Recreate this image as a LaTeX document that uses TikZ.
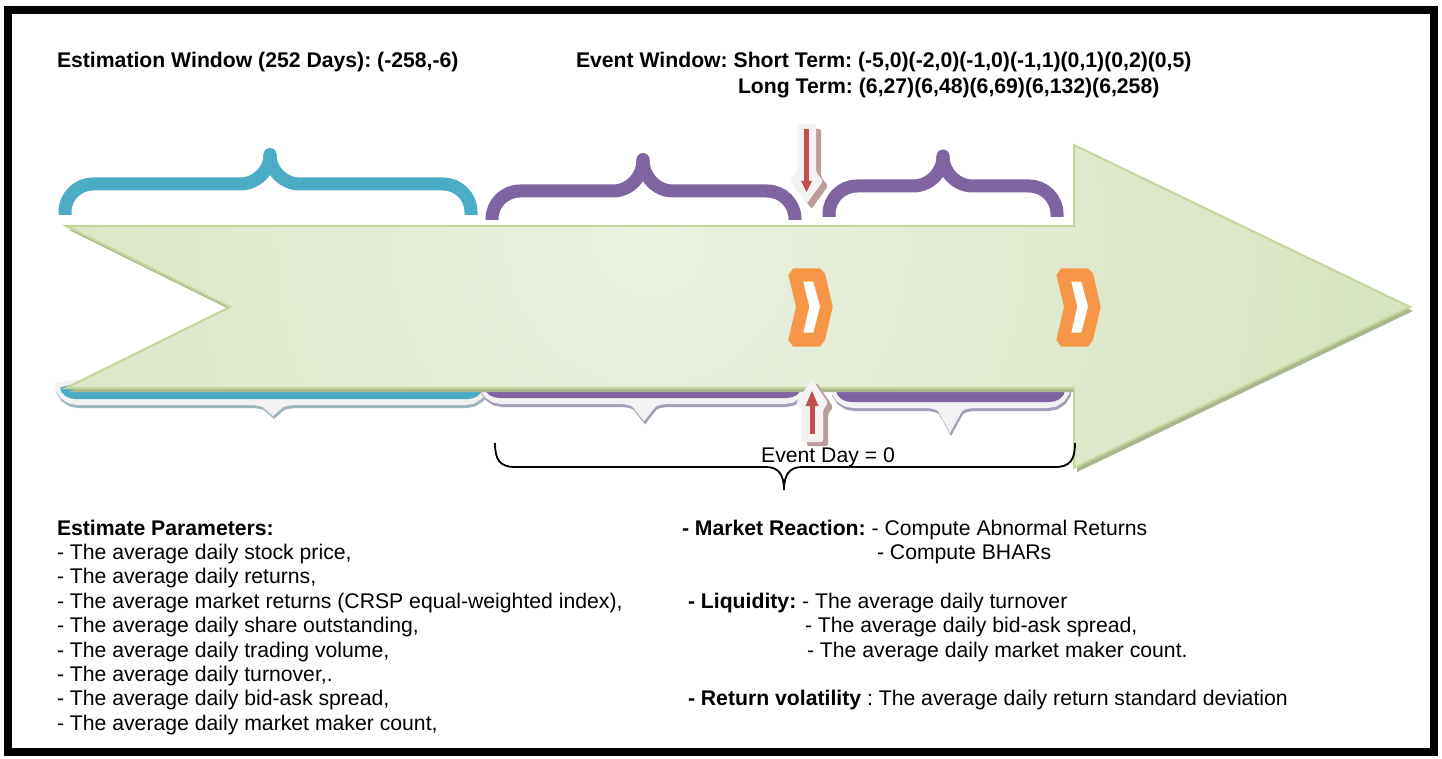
\documentclass[tikz,border=0pt]{standalone}
\usepackage{fontspec}
\setmainfont{Liberation Sans}
\frenchspacing
\definecolor{tealA}{HTML}{4BACC6}
\definecolor{purpA}{HTML}{8064A2}
\definecolor{orngA}{HTML}{F79646}
\definecolor{redA}{HTML}{C0504D}
\definecolor{grnB}{HTML}{C3D69B}
\definecolor{grnL}{HTML}{EAF1E0}
\definecolor{grnD}{HTML}{CEDEB0}
\definecolor{grnS}{HTML}{A9B78F}
\definecolor{glowA}{HTML}{F2F2F2}
\definecolor{redS}{HTML}{BB9D9B}
\definecolor{shT}{HTML}{9DB5BE}
\definecolor{shP}{HTML}{A89DB9}
% top brace: x1 x2 xm ybar yend ytip color
\newcommand{\topbr}[7]{%
 \draw[#7,line width=13pt] (#1,#5) -- (#1,#4+28) .. controls (#1,#4+12.5) and (#1+12.5,#4) .. (#1+28,#4) -- (#3-30,#4) .. controls (#3-13.4,#4) and (#3,{#6+0.55*(#4-#6)}) .. (#3,#6);
 \draw[#7,line width=13pt] (#2,#5) -- (#2,#4+28) .. controls (#2,#4+12.5) and (#2-12.5,#4) .. (#2-28,#4) -- (#3+30,#4) .. controls (#3+13.4,#4) and (#3,{#6+0.55*(#4-#6)}) .. (#3,#6);
 \fill[#7] (#3,#6) circle (6.5);}
% bottom brace: x1 x2 xm ybar kink color shadow
\newcommand{\botbr}[7]{%
 \foreach \sx/\sy/\cc in {1/3/#7,0/0/glowA}{%
 \draw[\cc,line width=24pt,line join=miter,shift={(\sx,\sy)}] (#1,#4-12) .. controls (#1,#4-5) and (#1+5,#4) .. (#1+12,#4) -- (#3-26,#4) .. controls (#3-10,#4) and (#3-3,#4+#5*0.45) .. (#3,#4+#5) .. controls (#3+3,#4+#5*0.45) and (#3+10,#4) .. (#3+26,#4) -- (#2-12,#4) .. controls (#2-5,#4) and (#2,#4-5) .. (#2,#4-12);}
 \draw[#6,line width=12pt] (#1,#4-7) .. controls (#1,#4-3) and (#1+4,#4) .. (#1+10,#4) -- (#2-10,#4) .. controls (#2-4,#4) and (#2,#4-3) .. (#2,#4-7);}
\begin{document}
\begin{tikzpicture}[x=1pt,y=-1pt,
  every node/.style={inner sep=0pt,outer sep=0pt},
  txt/.style={anchor=base west,font=\fontsize{21.2}{24.4}\selectfont},
  btxt/.style={anchor=base west,font=\fontsize{21.2}{24.4}\selectfont\bfseries},
  arrowshape/.style={insert path={(66,226) -- (1074,226) -- (1074,145) -- (1410,307) -- (1074,468) -- (1074,388) -- (66,388) -- (230,307) -- cycle}},
  chev/.style={insert path={(793.3,268.3) -- (820,268.3) -- (825,273.3) -- (832.7,306.7) -- (825,340) -- (820,346.7) -- (793.3,346.7) -- (788.3,340) -- (796,306.7) -- (788.3,275) -- cycle}},
  chevin/.style={insert path={(803.3,281.7) -- (813.3,281.7) -- (820,306.7) -- (813.3,332.7) -- (803.3,332.7) -- (809.3,306.7) -- cycle}}]
\useasboundingbox (0,0) rectangle (1442,759);
\fill[white] (0,0) rectangle (1442,759);
% bottom braces (behind arrow)
\botbr{66}{477}{273}{393}{7}{tealA}{shT}
\botbr{490}{796}{644}{392}{10}{purpA}{shP}
\botbr{842}{1059}{950}{396}{12}{purpA}{shP}
% big arrow
\fill[grnS,shift={(3,4)},arrowshape];
\begin{scope}
\clip[arrowshape];
\shade[inner color=grnL,outer color=grnD] (650,240) circle (1100);
\end{scope}
\draw[grnB,line width=2pt,line join=miter,arrowshape];
% top braces
\topbr{65}{471}{270}{184}{215}{154.5}{tealA}
\topbr{492}{795}{643}{191}{220}{159.5}{purpA}
\topbr{829}{1057}{943}{186}{217}{156}{purpA}
% chevrons
\fill[orngA,chev]; \fill[white,chevin];
\begin{scope}[shift={(268,0)}]
\fill[orngA,chev]; \fill[white,chevin];
\end{scope}
% down red arrow
\fill[redS,shift={(5,5)},rounded corners=2pt] (797,124) -- (816,124) -- (816,172) -- (823,181) -- (806.5,204) -- (790,181) -- (797,172) -- cycle;
\fill[glowA,rounded corners=2pt] (797,124) -- (816,124) -- (816,172) -- (823,181) -- (806.5,204) -- (790,181) -- (797,172) -- cycle;
\fill[redA] (804.3,129) rectangle (809.3,182);
\fill[redA] (801,181) -- (812,181) -- (806.5,192) -- cycle;
% up red arrow
\fill[redS,shift={(5,4)},rounded corners=2pt] (812,379) -- (828,403) -- (823,410) -- (823,442) -- (802,442) -- (802,410) -- (796,403) -- cycle;
\fill[glowA,rounded corners=2pt] (812,379) -- (828,403) -- (823,410) -- (823,442) -- (802,442) -- (802,410) -- (796,403) -- cycle;
\fill[redA] (805.5,406) -- (818.5,406) -- (812,391) -- cycle;
\fill[redA] (809.5,405) rectangle (814.5,434);
% black brace
\coordinate (bl) at (495,443);
\coordinate (br) at (1075,443);
\coordinate (bt) at (784,490);
\draw[black,line width=1.8pt] (bl) .. controls (495,460) and (500,467) .. (515,467) -- (766,467) .. controls (778,467) and (784,474) .. (bt);
\draw[black,line width=1.8pt] (br) .. controls (1075,460) and (1070,467) .. (1055,467) -- (802,467) .. controls (790,467) and (784,474) .. (bt);
\node[anchor=base,font=\fontsize{21.2}{24.4}\selectfont] (evd) at (828,462) {Event Day = 0};
% top texts
\node[btxt] (est) at (57,68) {Estimation Window (252 Days): (-258,-6)};
\node[btxt] (evs) at (576,68) {Event Window: Short Term: (-5,0)(-2,0)(-1,0)(-1,1)(0,1)(0,2)(0,5)};
\node[btxt] (evl) at (738,93.5) {Long Term: (6,27)(6,48)(6,69)(6,132)(6,258)};
% left column
\node[btxt] (l0) at (57,535) {Estimate Parameters:};
\node[txt] (l1) at (57,559.4) {- The average daily stock price,};
\node[txt] (l2) at (57,583.8) {- The average daily returns,};
\node[txt] (l3) at (57,608.2) {- The average market returns (CRSP equal-weighted index),};
\node[txt] (l4) at (57,632.6) {- The average daily share outstanding,};
\node[txt] (l5) at (57,657) {- The average daily trading volume,};
\node[txt] (l6) at (57,681.4) {- The average daily turnover,.};
\node[txt] (l7) at (57,705.8) {- The average daily bid-ask spread,};
\node[txt] (l8) at (57,730.2) {- The average daily market maker count,};
% right column
\node[txt] (r1) at (682,535) {\textbf{- Market Reaction:} - Compute Abnormal Returns};
\node[txt] (r2) at (877,559.4) {- Compute BHARs};
\node[txt] (r3) at (688,608.2) {\textbf{- Liquidity:} - The average daily turnover};
\node[txt] (r4) at (805,632.6) {- The average daily bid-ask spread,};
\node[txt] (r5) at (807,657) {- The average daily market maker count.};
\node[txt] (r6) at (688,705.8) {\textbf{- Return volatility} : The average daily return standard deviation};
% frame
\draw[black,line width=8pt] (8,10) rectangle (1434,752);
\end{tikzpicture}
\end{document}
